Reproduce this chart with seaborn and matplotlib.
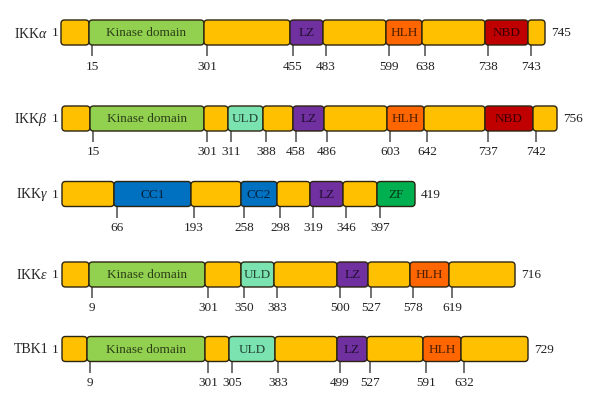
import numpy as np
import matplotlib
matplotlib.use("Agg")
import matplotlib.pyplot as plt
from matplotlib.patches import FancyBboxPatch
from matplotlib.colors import to_rgb
import seaborn as sns

# protein names, lengths and domain boundaries (residue numbers)
names = ["IKK$\\alpha$", "IKK$\\beta$", "IKK$\\gamma$", "IKK$\\varepsilon$", "TBK1"]
lengths = [745, 756, 419, 716, 729]

ikka_ticks = [15, 301, 455, 483, 599, 638, 738, 743]
ikkb_ticks = [15, 301, 311, 388, 458, 486, 603, 642, 737, 742]
ikkg_ticks = [66, 193, 258, 298, 319, 346, 397]
ikke_ticks = [9, 301, 350, 383, 500, 527, 578, 619]
tbk1_ticks = [9, 301, 305, 383, 499, 527, 591, 632]

ikka_dom = ["Kinase domain", "LZ", "HLH", "NBD"]
ikka_from = [15, 455, 599, 738]
ikka_to = [301, 483, 638, 743]
ikkb_dom = ["Kinase domain", "ULD", "LZ", "HLH", "NBD"]
ikkb_from = [15, 311, 458, 603, 737]
ikkb_to = [301, 388, 486, 642, 742]
ikkg_dom = ["CC1", "CC2", "LZ", "ZF"]
ikkg_from = [66, 258, 319, 397]
ikkg_to = [193, 298, 346, 419]
ikke_dom = ["Kinase domain", "ULD", "LZ", "HLH"]
ikke_from = [9, 350, 500, 578]
ikke_to = [301, 383, 527, 619]
tbk1_dom = ["Kinase domain", "ULD", "LZ", "HLH"]
tbk1_from = [9, 305, 499, 591]
tbk1_to = [301, 383, 527, 632]

# schematic (not to scale) positions of the marks
ikka_pos = [92, 207, 293, 326, 389, 425, 488, 531]
ikkb_pos = [93, 207, 231, 266, 296, 327, 390, 427, 488, 536]
ikkg_pos = [117, 194, 244, 280, 313, 346, 380]
ikke_pos = [92, 208, 244, 277, 340, 371, 413, 452]
tbk1_pos = [90, 208, 232, 278, 340, 370, 426, 464]
bar_start = [61, 62, 62, 62, 62]
bar_end = [545, 557, 415, 515, 528]
row_y = [33.5, 119.5, 195, 275.5, 350]

all_ticks = [ikka_ticks, ikkb_ticks, ikkg_ticks, ikke_ticks, tbk1_ticks]
all_pos = [ikka_pos, ikkb_pos, ikkg_pos, ikke_pos, tbk1_pos]
all_dom = [(ikka_dom, ikka_from, ikka_to), (ikkb_dom, ikkb_from, ikkb_to),
           (ikkg_dom, ikkg_from, ikkg_to), (ikke_dom, ikke_from, ikke_to),
           (tbk1_dom, tbk1_from, tbk1_to)]

colors = {"base": "#FFC000", "Kinase domain": "#92D050", "LZ": "#7030A0",
          "HLH": "#FF6600", "NBD": "#C00000", "ULD": "#7BE3B0",
          "CC1": "#0070C0", "CC2": "#0070C0", "ZF": "#00B050"}

sns.set_theme(style="white")
plt.rcParams["font.family"] = ["Liberation Serif", "DejaVu Serif"]
plt.rcParams["mathtext.fontset"] = "custom"
plt.rcParams["mathtext.rm"] = "Liberation Serif"
plt.rcParams["mathtext.it"] = "Liberation Serif:italic"

fig = plt.figure(figsize=(6, 4.1), dpi=100)
ax = fig.add_axes([0, 0, 1, 1])
ax.set_xlim(0, 600)
ax.set_ylim(410, 0)
ax.axis("off")

h = 25
off = 3  # ticks sit a little right of the domain edge
fs = 9.5

for i in range(5):
    yc = row_y[i]
    ticks = all_ticks[i]
    pos = all_pos[i]
    dom, dfrom, dto = all_dom[i]
    res = [1] + ticks + [lengths[i]]
    xs = [bar_start[i]] + [p - off for p in pos] + [bar_end[i]]
    for k in range(len(res) - 1):
        name = None
        for d, a, b in zip(dom, dfrom, dto):
            if a == res[k] and b == res[k + 1]:
                name = d
        fc = colors[name] if name else colors["base"]
        box = FancyBboxPatch((xs[k], yc - h / 2), xs[k + 1] - xs[k], h,
                             boxstyle="round,pad=0,rounding_size=3.5",
                             fc=fc, ec="#2b2410", lw=1.0, zorder=2)
        ax.add_patch(box)
        if name:
            tc = tuple(np.array(to_rgb(fc)) * 0.3)
            ax.text((xs[k] + xs[k + 1]) / 2, yc, name, ha="center", va="center",
                    fontsize=fs, color=tc, zorder=3)
    ax.vlines(pos, yc + h / 2, yc + 23.5, color="#4a4a4a", lw=1.1, zorder=1)
    for p, t in zip(pos, ticks):
        ax.text(p, yc + 33, str(t), ha="center", va="center", fontsize=fs, color="#222222")
    ax.text(48, yc, names[i], ha="right", va="center", fontsize=10, color="#222222")
    ax.text(55, yc, "1", ha="center", va="center", fontsize=fs, color="#222222")
    ax.text(bar_end[i] + 6, yc, str(lengths[i]), ha="left", va="center",
            fontsize=fs, color="#222222")

fig.savefig("out.png", dpi=100)
